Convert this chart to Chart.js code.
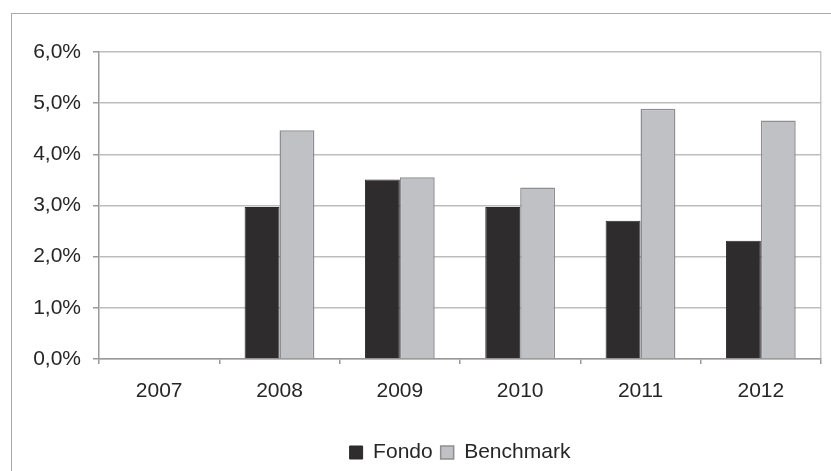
<!DOCTYPE html>
<html>
<head>
<meta charset="utf-8">
<script src="https://cdn.jsdelivr.net/npm/chart.js@4/dist/chart.umd.min.js"></script>
<style>
  html, body { margin: 0; padding: 0; background: #fff; overflow: hidden; }
  #wrap { position: relative; width: 831px; height: 471px; }
  #frame { position: absolute; left: 11px; top: 13px; width: 840px; height: 480px; border: 1.5px solid #a8a8a8; box-sizing: border-box; }
  canvas { position: absolute; left: 0; top: 0; }
</style>
</head>
<body>
<div id="wrap">
  <div id="frame"></div>
  <canvas id="chart" width="831" height="471"></canvas>
</div>
<script>
/* ========= DATI ========= */
const years = ["2007", "2008", "2009", "2010", "2011", "2012"];
const fondo = [null, 2.97, 3.51, 2.97, 2.70, 2.31];
const benchmark = [null, 4.47, 3.55, 3.35, 4.89, 4.66];
const yTicks = [0, 1, 2, 3, 4, 5, 6];

const fmt = v => v.toFixed(1).replace(".", ",") + "%";

/* ========= GRAFICO ========= */
Chart.defaults.font.family = "'Liberation Sans', Arial, sans-serif";
Chart.defaults.font.size = 21;
Chart.defaults.color = "#262626";

// legenda centrata sull'area del grafico, non sul canvas
const shiftLegend = {
  id: "shiftLegend",
  afterLayout(chart) {
    const lg = chart.legend;
    const dx = (chart.chartArea.left + chart.chartArea.right) / 2 - (lg.left + lg.right) / 2;
    lg.left += dx;
    lg.right += dx;
  }
};

new Chart(document.getElementById("chart"), {
  type: "bar",
  data: {
    labels: years,
    datasets: [
      {
        label: "Fondo",
        data: fondo,
        backgroundColor: "#2e2c2d",
        borderColor: "#2a2a2a",
        borderWidth: 1
      },
      {
        label: "Benchmark",
        data: benchmark,
        backgroundColor: "#c0c1c5",
        borderColor: "#8e8e92",
        borderWidth: 1.5
      }
    ]
  },
  options: {
    responsive: false,
    animation: false,
    devicePixelRatio: 1,
    layout: { padding: { left: 0, top: 52, right: 10, bottom: -2 } },
    datasets: { bar: { barPercentage: 1, categoryPercentage: 0.58 } },
    plugins: {
      tooltip: { enabled: false },
      legend: {
        position: "bottom",
        labels: {
          boxWidth: 13,
          boxHeight: 13,
          padding: 8,
          color: "#262626",
          font: { size: 21 }
        }
      }
    },
    scales: {
      x: {
        afterFit: s => { s.height = 75; },
        grid: {
          offset: true,
          drawOnChartArea: true,
          color: c => c.index === undefined ? "#c8c8c8" : "rgba(0,0,0,0)",
          tickColor: "#9a9a9a",
          tickLength: 5,
          lineWidth: 1.5
        },
        border: { color: "#9a9a9a", width: 1.5 },
        ticks: { padding: 15, color: "#262626" }
      },
      y: {
        min: 0,
        max: 6,
        afterFit: s => { s.width = 99; },
        afterBuildTicks: s => { s.ticks = yTicks.map(v => ({ value: v })); },
        grid: {
          color: "#bdbdbd",
          lineWidth: 1.5,
          tickColor: "#9a9a9a",
          tickLength: 6
        },
        border: { color: "#9a9a9a", width: 1.5 },
        ticks: { padding: 12, color: "#262626", callback: v => fmt(v) }
      }
    }
  },
  plugins: [shiftLegend]
});
</script>
</body>
</html>
